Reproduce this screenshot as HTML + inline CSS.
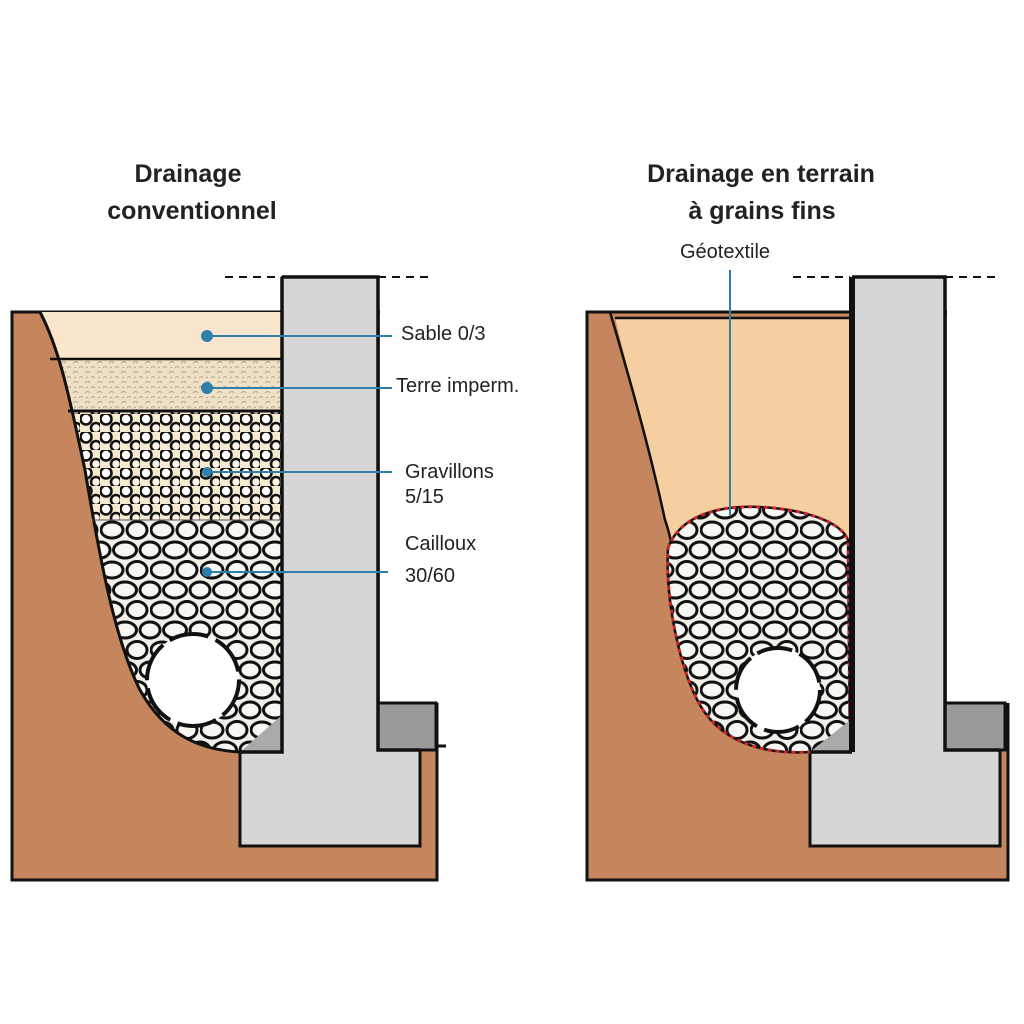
<!DOCTYPE html>
<html><head><meta charset="utf-8"><style>
html,body{margin:0;padding:0;background:#fff;}
svg{display:block;font-family:"Liberation Sans",Arial,sans-serif;}
</style></head><body>
<svg width="1024" height="1024" viewBox="0 0 1024 1024" xmlns="http://www.w3.org/2000/svg">
<defs>
<pattern id="grav" width="20" height="18" patternUnits="userSpaceOnUse">
<rect width="20" height="18" fill="#f6ead0"/>
<circle cx="6" cy="5" r="5.5" fill="#fff" stroke="#111" stroke-width="2.6"/>
<circle cx="16" cy="14" r="5" fill="#fbf4e6" stroke="#111" stroke-width="2.6"/>
</pattern>
<pattern id="stone" width="50" height="40" patternUnits="userSpaceOnUse">
<rect width="50" height="40" fill="#f0efe8"/>
<ellipse cx="12" cy="10" rx="11" ry="8" fill="#f7f7f4" stroke="#111" stroke-width="3"/>
<ellipse cx="37" cy="10" rx="10" ry="8.5" fill="#f7f7f4" stroke="#111" stroke-width="3"/>
<ellipse cx="0" cy="30" rx="10" ry="8" fill="#f7f7f4" stroke="#111" stroke-width="3"/>
<ellipse cx="50" cy="30" rx="10" ry="8" fill="#f7f7f4" stroke="#111" stroke-width="3"/>
<ellipse cx="25" cy="30" rx="11.5" ry="8" fill="#f7f7f4" stroke="#111" stroke-width="3"/>
</pattern>
<pattern id="terre" width="12" height="10" patternUnits="userSpaceOnUse">
<rect width="12" height="10" fill="#eee1c8"/>
<path d="M1 3 q3 -3 5 0 M7 8 q2 -3 4 0 M2 8 l2 -1" stroke="#b9a888" stroke-width="1" fill="none"/>
</pattern>
</defs>

<text x="188" y="182" font-size="25" font-weight="bold" text-anchor="middle" fill="#222">Drainage</text>
<text x="192" y="219" font-size="25" font-weight="bold" text-anchor="middle" fill="#222">conventionnel</text>
<text x="761" y="182" font-size="25" font-weight="bold" text-anchor="middle" fill="#222">Drainage en terrain</text>
<text x="762" y="219" font-size="25" font-weight="bold" text-anchor="middle" fill="#222">à grains fins</text>

<!-- ===== LEFT ===== -->
<rect x="12" y="312" width="425" height="568" fill="#c5855d" stroke="#111" stroke-width="3"/>
<rect x="380" y="305" width="62" height="398" fill="#fff"/>
<rect x="240" y="750" width="180" height="96" fill="#d6d6d6" stroke="#111" stroke-width="3"/>
<rect x="378" y="703" width="58" height="47" fill="#9a9a9a" stroke="#111" stroke-width="3"/>
<line x1="436" y1="746" x2="446" y2="746" stroke="#111" stroke-width="3"/>
<clipPath id="trL"><path d="M40 312 C60 350 70 400 85 470 C100 560 115 640 140 690 C165 735 200 750 240 752 L282 752 L282 312 Z"/></clipPath>
<g clip-path="url(#trL)">
<rect x="30" y="312" width="260" height="47" fill="#f9e6cc"/>
<rect x="30" y="359" width="260" height="52" fill="url(#terre)"/>
<rect x="30" y="411" width="260" height="109" fill="url(#grav)"/>
<rect x="30" y="520" width="260" height="235" fill="url(#stone)"/>
<polygon points="240,752 282,715 282,752" fill="#aaa"/>
</g>
<path d="M40 312 C60 350 70 400 85 470 C100 560 115 640 140 690 C165 735 200 750 240 752" fill="none" stroke="#111" stroke-width="3"/>
<line x1="50" y1="359" x2="282" y2="359" stroke="#111" stroke-width="2.5"/>
<line x1="68" y1="411" x2="282" y2="411" stroke="#111" stroke-width="3"/>
<line x1="92" y1="520" x2="282" y2="520" stroke="#555" stroke-width="1"/>
<circle cx="193" cy="680" r="46" fill="#fff" stroke="#111" stroke-width="4" stroke-dasharray="40 8"/>
<rect x="282" y="277" width="96" height="475" fill="#d6d6d6"/>
<rect x="244" y="752" width="172" height="90" fill="#d6d6d6"/>
<path d="M282 277 L282 752 L240 752 M282 277 L378 277 L378 750 L420 750" fill="none" stroke="#111" stroke-width="3.5"/>
<line x1="225" y1="277" x2="282" y2="277" stroke="#111" stroke-width="2" stroke-dasharray="8 6"/>
<line x1="378" y1="277" x2="434" y2="277" stroke="#111" stroke-width="2" stroke-dasharray="8 6"/>
<g stroke="#2f7fa8" stroke-width="2" fill="#2f7fa8">
<line x1="207" y1="336" x2="392" y2="336"/><circle cx="207" cy="336" r="5"/>
<line x1="207" y1="388" x2="392" y2="388"/><circle cx="207" cy="388" r="5"/>
<line x1="207" y1="472" x2="392" y2="472"/><circle cx="207" cy="472" r="4"/>
<line x1="207" y1="572" x2="388" y2="572"/><circle cx="207" cy="572" r="4"/>
</g>
<g font-size="20" fill="#222">
<text x="401" y="340">Sable 0/3</text>
<text x="396" y="392">Terre imperm.</text>
<text x="405" y="478">Gravillons</text>
<text x="405" y="503">5/15</text>
<text x="405" y="550">Cailloux</text>
<text x="405" y="582">30/60</text>
</g>

<!-- ===== RIGHT ===== -->
<rect x="587" y="312" width="421" height="568" fill="#c5855d" stroke="#111" stroke-width="3"/>
<rect x="947" y="305" width="66" height="398" fill="#fff"/>
<rect x="810" y="750" width="190" height="96" fill="#d6d6d6" stroke="#111" stroke-width="3"/>
<rect x="945" y="703" width="60" height="47" fill="#9a9a9a" stroke="#111" stroke-width="3"/>
<path d="M610 312 L615 318 L852 318 L852 752 L810 752 C760 750 720 740 700 700 C680 650 680 560 665 520 C650 450 630 380 615 318 Z" fill="#f5cfa0"/>
<path d="M610 312 C630 380 650 450 665 520 C680 560 680 650 700 700 C720 740 760 750 810 752" fill="none" stroke="#111" stroke-width="2.5"/>
<line x1="615" y1="318" x2="852" y2="318" stroke="#111" stroke-width="2.5"/>
<path d="M668 548 C680 515 720 505 760 507 C800 509 840 520 848 540 L850 752 L810 752 C760 755 720 740 700 705 C680 670 665 600 668 548 Z" fill="url(#stone)" stroke="#111" stroke-width="2.5"/>
<path d="M668 548 C680 515 720 505 760 507 C800 509 840 520 848 540 L850 752 L810 752 C760 755 720 740 700 705 C680 670 665 600 668 548 Z" fill="none" stroke="#c8262b" stroke-width="3" stroke-dasharray="4 4"/>
<polygon points="810,752 850,720 850,752" fill="#aaa"/>
<circle cx="778" cy="690" r="42" fill="#fff" stroke="#111" stroke-width="4" stroke-dasharray="36 8"/>
<rect x="852" y="277" width="93" height="475" fill="#d6d6d6"/>
<rect x="814" y="752" width="182" height="90" fill="#d6d6d6"/>
<line x1="852" y1="277" x2="852" y2="752" stroke="#111" stroke-width="6"/>
<path d="M852 752 L810 752 M852 277 L945 277 L945 750 L1000 750" fill="none" stroke="#111" stroke-width="3.5"/>
<line x1="793" y1="277" x2="850" y2="277" stroke="#111" stroke-width="2" stroke-dasharray="8 6"/>
<line x1="945" y1="277" x2="1000" y2="277" stroke="#111" stroke-width="2" stroke-dasharray="8 6"/>
<line x1="730" y1="270" x2="730" y2="515" stroke="#2f7fa8" stroke-width="2"/>
<text x="725" y="258" font-size="20" text-anchor="middle" fill="#222">Géotextile</text>
</svg>
</body></html>
